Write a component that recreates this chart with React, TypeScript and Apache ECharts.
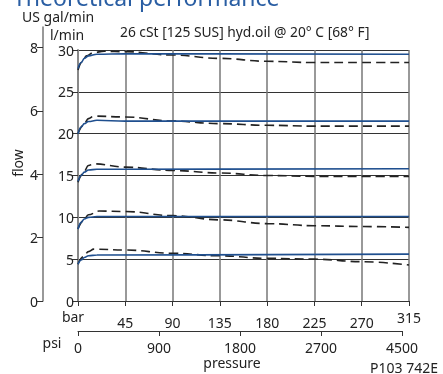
import React, { useEffect, useRef } from "react";
import * as echarts from "echarts";

const LPM_PER_GAL = 3.785;
const psiLabels = ["0", "900", "1800", "2700", "4500"];
const galTicks = [0, 2, 4, 6, 8];

const blue1 = [[0, 27.8], [3, 28.5], [6, 29.0], [10, 29.3], [18, 29.5], [45, 29.55], [315, 29.5]];
const dash1 = [[0, 27.6], [4, 28.6], [8, 29.3], [15, 29.7], [25, 29.85], [45, 29.8], [90, 29.4], [135, 29.0], [180, 28.65], [225, 28.5], [270, 28.5], [315, 28.5]];
const blue2 = [[0, 20.0], [3, 20.8], [6, 21.2], [10, 21.45], [18, 21.6], [45, 21.5], [315, 21.5]];
const dash2 = [[0, 20.0], [5, 21.0], [10, 21.8], [15, 22.1], [45, 22.0], [90, 21.5], [135, 21.2], [180, 21.0], [225, 20.9], [315, 20.9]];
const blue3 = [[0, 14.3], [3, 15.0], [6, 15.4], [10, 15.65], [18, 15.75], [45, 15.75], [315, 15.8]];
const dash3 = [[0, 14.2], [5, 15.3], [10, 16.2], [15, 16.4], [45, 16.0], [90, 15.6], [135, 15.3], [180, 15.0], [225, 14.9], [315, 14.9]];
const blue4 = [[0, 8.6], [3, 9.4], [6, 9.8], [10, 10.0], [18, 10.1], [315, 10.1]];
const dash4 = [[0, 8.6], [5, 9.6], [10, 10.3], [20, 10.75], [45, 10.7], [90, 10.2], [135, 9.7], [180, 9.25], [225, 9.0], [270, 8.9], [315, 8.8]];
const blue5 = [[0, 4.4], [3, 4.9], [6, 5.2], [10, 5.4], [18, 5.5], [315, 5.6]];
const dash5 = [[0, 4.4], [5, 5.3], [10, 5.9], [15, 6.2], [45, 6.1], [90, 5.7], [135, 5.4], [180, 5.1], [225, 5.0], [270, 4.7], [315, 4.3]];

const blueSeries = [blue1, blue2, blue3, blue4, blue5];
const dashSeries = [dash1, dash2, dash3, dash4, dash5];

const FONT = "Noto Sans";
const TXT = "#222";
const BLUE = "#1f4f8f";

export default function App() {
  const ref = useRef<HTMLDivElement>(null);
  useEffect(() => {
    if (!ref.current) return;
    const chart = echarts.init(ref.current, null, { renderer: "svg" });
    const lpmMax = 30;
    const mainTop = 50, mainH = 251;
    const galTop = 27;
    const galH = mainTop + mainH - galTop;
    const galMax = (galH / mainH) * (lpmMax / LPM_PER_GAL);

    const series: any[] = [];
    dashSeries.forEach((d, i) => {
      series.push({
        type: "line", name: "dash" + i, data: d, xAxisIndex: 0, yAxisIndex: 0,
        smooth: 0.4, smoothMonotone: "x", symbol: "none",
        lineStyle: { color: "#222", width: 1.6, type: [9, 5] },
      });
    });
    blueSeries.forEach((d, i) => {
      series.push({
        type: "line", name: "blue" + i, data: d, xAxisIndex: 0, yAxisIndex: 0,
        smooth: 0.4, smoothMonotone: "x", symbol: "none",
        lineStyle: { color: BLUE, width: 1.6 },
      });
    });

    const tickFont = { fontSize: 14, color: TXT, fontFamily: FONT };

    chart.setOption({
      animation: false,
      textStyle: { fontFamily: FONT, color: TXT },
      grid: [
        { left: 78, top: mainTop, width: 331, height: mainH },
        { left: 43, top: galTop, width: 1, height: galH },
        { left: 78, top: 330, width: 324, height: 1 },
      ],
      xAxis: [
        {
          gridIndex: 0, type: "value", min: 0, max: 315, interval: 45,
          axisLine: { show: true, lineStyle: { color: "#333", width: 1 } },
          axisTick: { show: true, length: 5, lineStyle: { color: "#333" } },
          splitLine: { show: true, lineStyle: { color: "#777", width: 1.5 } },
          axisLabel: {
            margin: 9, ...tickFont, lineHeight: 24,
            formatter: (v: number) => (v === 0 ? "" : v === 315 ? "{h|" + v + "}" : "{n|" + v + "}"),
            rich: { n: { lineHeight: 24, fontSize: 14 }, h: { lineHeight: 14, fontSize: 14 } },
          },
        },
        { gridIndex: 1, type: "value", show: false, min: 0, max: 1 },
        {
          gridIndex: 2, type: "category", data: psiLabels, boundaryGap: false,
          axisLine: { show: true, lineStyle: { color: "#333", width: 1 } },
          axisTick: { show: true, length: 5, lineStyle: { color: "#333" } },
          splitLine: { show: false },
          axisLabel: { margin: 9, ...tickFont },
        },
      ],
      yAxis: [
        {
          gridIndex: 0, type: "value", min: 0, max: lpmMax, interval: 5,
          axisLine: { show: true, lineStyle: { color: "#888", width: 2 } },
          axisTick: { show: true, length: 6, lineStyle: { color: "#333" } },
          splitLine: { show: true, lineStyle: { color: "#333", width: 1 } },
          axisLabel: { margin: 4, ...tickFont },
        },
        {
          gridIndex: 1, type: "value", min: 0, max: galMax,
          axisLine: { show: true, lineStyle: { color: "#777", width: 1.5 } },
          axisTick: { show: true, length: 6, customValues: galTicks, lineStyle: { color: "#333" } },
          axisLabel: { customValues: galTicks, margin: 5, ...tickFont },
          splitLine: { show: false },
        },
        { gridIndex: 2, type: "value", show: false, min: 0, max: 1 },
      ],
      graphic: [
        { type: "text", x: 13, y: 8, style: { text: "Theoretical performance", fontSize: 23, fontFamily: FONT, fill: "#2a5ea3", verticalAlign: "bottom" } },
        { type: "text", x: 22, y: 16, style: { text: "US gal/min", fontSize: 14, fontFamily: FONT, fill: TXT, verticalAlign: "middle" } },
        { type: "text", x: 50, y: 34, style: { text: "l/min", fontSize: 14, fontFamily: FONT, fill: TXT, verticalAlign: "middle" } },
        { type: "text", x: 120, y: 31, style: { text: "26 cSt [125 SUS] hyd.oil @ 20° C [68° F]", fontSize: 13.8, fontFamily: FONT, fill: TXT, verticalAlign: "middle" } },
        { type: "text", x: 17, y: 163, rotation: Math.PI / 2, style: { text: "flow", fontSize: 14, fontFamily: FONT, fill: TXT, align: "center", verticalAlign: "middle" } },
        { type: "text", x: 73, y: 316, style: { text: "bar", fontSize: 14, fontFamily: FONT, fill: TXT, align: "center", verticalAlign: "middle" } },
        { type: "text", x: 52, y: 342, style: { text: "psi", fontSize: 14, fontFamily: FONT, fill: TXT, align: "center", verticalAlign: "middle" } },
        { type: "text", x: 232, y: 362, style: { text: "pressure", fontSize: 14, fontFamily: FONT, fill: TXT, align: "center", verticalAlign: "middle" } },
        { type: "text", x: 370, y: 367, style: { text: "P103 742E", fontSize: 14, fontFamily: FONT, fill: TXT, verticalAlign: "middle" } },
      ],
      series,
    });
    return () => chart.dispose();
  }, []);
  return <div ref={ref} style={{ position: "fixed", left: 0, top: 0, width: 443, height: 374 }} />;
}
